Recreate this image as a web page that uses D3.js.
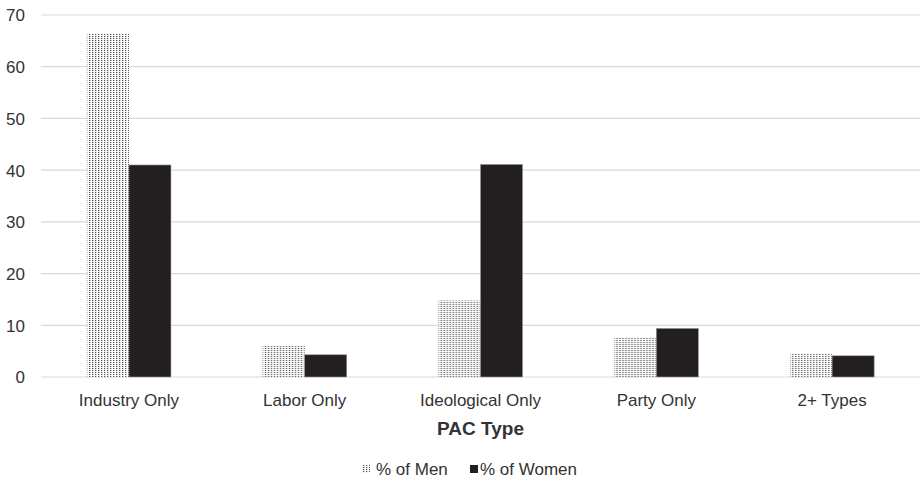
<!DOCTYPE html>
<html>
<head>
<meta charset="utf-8">
<script src="https://cdn.jsdelivr.net/npm/d3@7"></script>
<style>
  html, body { margin: 0; padding: 0; background: #fff; }
  svg { display: block; font-family: "Liberation Sans", Arial, sans-serif; }
</style>
</head>
<body>
<svg id="chart" width="921" height="479"></svg>
<script>
// PAC type breakdown, share of men vs. women
const categories = ["Industry Only", "Labor Only", "Ideological Only", "Party Only", "2+ Types"];
const seriesNames = ["% of Men", "% of Women"];
const menValues = [66.5, 6.0, 14.8, 7.7, 4.6];
const womenValues = [41.0, 4.3, 41.1, 9.4, 4.1];
const yTicks = [0, 10, 20, 30, 40, 50, 60, 70];
const xTitle = "PAC Type";

const svg = d3.select("#chart");
const plot = { left: 41, right: 920, top: 15, bottom: 377 };
const fontStack = "Liberation Sans, Arial, sans-serif";

const defs = svg.append("defs");
const pat = defs.append("pattern")
  .attr("id", "dots")
  .attr("patternUnits", "userSpaceOnUse")
  .attr("width", 3).attr("height", 2);
pat.append("rect").attr("width", 3).attr("height", 2).attr("fill", "#fff");
pat.append("rect").attr("x", 0).attr("y", 0).attr("width", 1.3).attr("height", 1.1).attr("fill", "#555");

const x0 = d3.scaleBand().domain(categories).range([plot.left, plot.right]).padding(0);
const x1 = d3.scaleBand().domain(seriesNames).range([0, x0.bandwidth()])
  .paddingInner(0).paddingOuter(1.09);
const y = d3.scaleLinear().domain([0, 70]).range([plot.bottom, plot.top]);

// gridlines
svg.append("g").selectAll("line").data(yTicks).join("line")
  .attr("x1", plot.left).attr("x2", plot.right)
  .attr("y1", d => y(d)).attr("y2", d => y(d))
  .attr("stroke", "#d9d9d9").attr("stroke-width", 1.2);

// y axis labels
const yAxis = d3.axisLeft(y).tickValues(yTicks).tickSize(0).tickPadding(0);
const gy = svg.append("g").attr("transform", "translate(25,0)").call(yAxis);
gy.select(".domain").remove();
gy.selectAll("text").attr("fill", "#333").attr("dy", "0.35em")
  .style("font-size", "17px").style("font-family", fontStack);

const rows = categories.map((c, i) => ({ cat: c, vals: [menValues[i], womenValues[i]] }));
const fills = ["url(#dots)", "#231f20"];

const groups = svg.append("g").selectAll("g").data(rows).join("g")
  .attr("transform", d => `translate(${x0(d.cat)},0)`);
groups.selectAll("rect").data(d => d.vals.map((v, j) => ({ name: seriesNames[j], v, j })))
  .join("rect")
  .attr("x", d => x1(d.name))
  .attr("width", x1.bandwidth())
  .attr("y", d => y(d.v))
  .attr("height", d => y(0) - y(d.v))
  .attr("fill", d => fills[d.j])
  .attr("stroke", d => d.j === 1 ? "#9a9a9a" : "none")
  .attr("stroke-width", 0.6);

// category axis
const xAxis = d3.axisBottom(x0).tickSize(0).tickPadding(0);
const gx = svg.append("g").attr("transform", `translate(0,406)`).call(xAxis);
gx.select(".domain").remove();
gx.selectAll("text").attr("fill", "#333").attr("dy", 0)
  .style("font-size", "17px").style("font-family", fontStack);

svg.append("text")
  .attr("x", (plot.left + plot.right) / 2).attr("y", 435)
  .attr("text-anchor", "middle")
  .attr("font-weight", "bold").attr("font-size", 19).attr("fill", "#333")
  .text(xTitle);

// legend
const legend = svg.append("g").attr("transform", "translate(0,475)");
const legendItems = [
  { name: seriesNames[0], fill: fills[0], x: 362, gap: 14 },
  { name: seriesNames[1], fill: fills[1], x: 470, gap: 10 }
];
legendItems.forEach(it => {
  legend.append("rect").attr("x", it.x).attr("y", -10).attr("width", 8).attr("height", 8)
    .attr("fill", it.fill);
  legend.append("text").attr("x", it.x + it.gap).attr("y", 0)
    .attr("font-size", 17).attr("fill", "#333").text(it.name);
});
</script>
</body>
</html>
